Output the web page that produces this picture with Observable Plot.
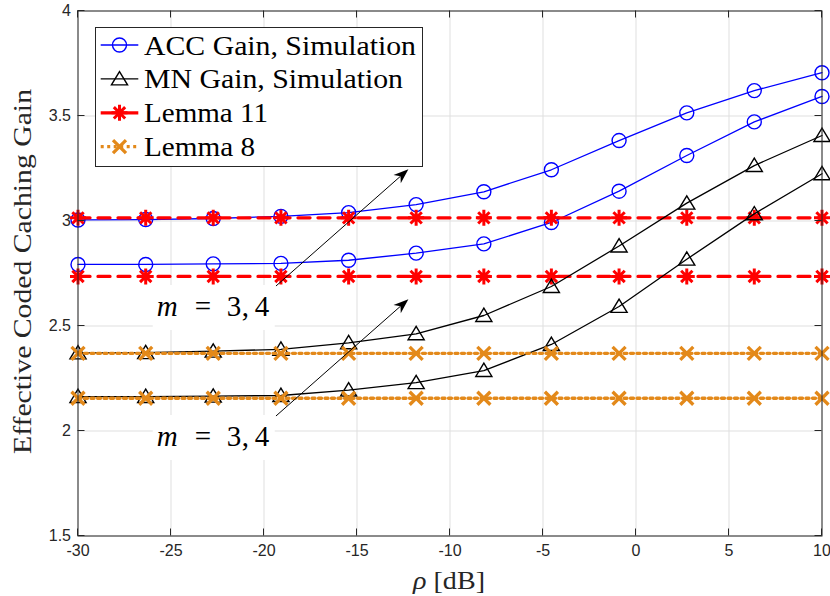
<!DOCTYPE html>
<html><head><meta charset="utf-8">
<script src="https://cdn.jsdelivr.net/npm/d3@7"></script>
<script src="https://cdn.jsdelivr.net/npm/@observablehq/plot@0.6"></script>
<style>
body{margin:0;background:#fff;}
#chart{width:830px;height:596px;}
</style></head><body><div id="chart"></div>
<script>
// ---- data ----
const rho = [-30, -26.36, -22.73, -19.09, -15.45, -11.82, -8.18, -4.55, -0.91, 2.73, 6.36, 10];
const accM4 = [3.005, 3.007, 3.012, 3.022, 3.04, 3.078, 3.139, 3.244, 3.383, 3.515, 3.621, 3.706];
const accM3 = [2.793, 2.793, 2.796, 2.798, 2.813, 2.847, 2.891, 2.993, 3.142, 3.312, 3.472, 3.593];
const mnM4 = [2.372, 2.373, 2.38, 2.389, 2.42, 2.463, 2.55, 2.688, 2.881, 3.085, 3.264, 3.407];
const mnM3 = [2.164, 2.164, 2.166, 2.169, 2.195, 2.23, 2.288, 2.412, 2.593, 2.818, 3.034, 3.225];
const lemma11 = [3.015, 2.736];
const lemma8 = [2.370, 2.156];
const xTicks = [-30, -25, -20, -15, -10, -5, 0, 5, 10];
const yTicks = [1.5, 2, 2.5, 3, 3.5, 4];
const legendLabels = ["ACC Gain, Simulation", "MN Gain, Simulation", "Lemma 11", "Lemma 8"];
const xTitle = ["ρ", " [dB]"];
const yTitle = "Effective Coded Caching Gain";
const annText = ["m", "=", "3", ",", "4"];
const arrowFrom = [[-19.33, 2.688], [-19.33, 2.069]];
const arrowTo = [[-12.21, 3.244], [-12.21, 2.625]];
const annAt = [[-25.74, 2.545], [-25.74, 1.926]];

// ---- symbols ----
const symCircle = {draw(c, s){const r=Math.sqrt(s/Math.PI); c.moveTo(r,0); c.arc(0,0,r,0,2*Math.PI);}};
const symTri = {draw(c, s){const r=Math.sqrt(s/Math.PI); c.moveTo(0,-r*1.05); c.lineTo(r*1.15,r*0.85); c.lineTo(-r*1.15,r*0.85); c.closePath();}};
const symStar = {draw(c, s){const r=Math.sqrt(s/Math.PI), d=r*Math.SQRT1_2;
  c.moveTo(0,-r); c.lineTo(0,r); c.moveTo(-r,0); c.lineTo(r,0);
  c.moveTo(-d,-d); c.lineTo(d,d); c.moveTo(-d,d); c.lineTo(d,-d);}};
const symX = {draw(c, s){const r=Math.sqrt(s/Math.PI); c.moveTo(-r,-r); c.lineTo(r,r); c.moveTo(-r,r); c.lineTo(r,-r);}};

const rows = vals => rho.map((r,i)=>({rho:r, v:vals[i]}));
const flat = v => rho.map(r=>({rho:r, v}));

const BLUE="#0000ff", BLACK="#000000", RED="#ff0000", ORANGE="#e3891a";
const styles = [
  {stroke:BLUE, sym:symCircle, r:7, sw:1.4, lw:1.3, dash:null},
  {stroke:BLACK, sym:symTri, r:7, sw:1.4, lw:1.3, dash:null},
  {stroke:RED, sym:symStar, r:8, sw:3, lw:3.3, dash:"12,8"},
  {stroke:ORANGE, sym:symX, r:6.5, sw:3.3, lw:3.3, dash:"3,3.5"}
];

function seriesMarks(data, st){
  return [
    Plot.line(data, {x:"rho", y:"v", stroke:st.stroke, strokeWidth:st.lw, strokeDasharray:st.dash}),
    Plot.dot(data, {x:"rho", y:"v", symbol:st.sym, r:st.r, stroke:st.stroke, fill:"none", strokeWidth:st.sw})
  ];
}

const plot = Plot.plot({
  width: 830, height: 596,
  marginLeft: 77.5, marginRight: 8.5, marginTop: 10.5, marginBottom: 60.5,
  style: {fontFamily: "'Liberation Sans', Arial, Helvetica, sans-serif", background: "#fff", overflow: "visible"},
  x: {domain: [-30, 10]},
  y: {domain: [1.5, 4]},
  marks: [
    Plot.gridX({ticks: xTicks, stroke: "#dfdfdf", strokeOpacity: 1, strokeWidth: 1}),
    Plot.gridY({ticks: yTicks, stroke: "#dfdfdf", strokeOpacity: 1, strokeWidth: 1}),
    Plot.axisX({ticks: xTicks, anchor: "bottom", tickSize: 0, tickPadding: 9, tickFormat: d => String(d), fontSize: 16, color: "#262626", label: null}),
    Plot.axisY({ticks: yTicks, anchor: "left", tickSize: 0, tickPadding: 7, tickFormat: d => String(d), fontSize: 16, color: "#262626", label: null}),
    ...seriesMarks(rows(accM4), styles[0]),
    ...seriesMarks(rows(accM3), styles[0]),
    ...seriesMarks(flat(lemma11[0]), styles[2]),
    ...seriesMarks(flat(lemma11[1]), styles[2]),
    ...seriesMarks(rows(mnM4), styles[1]),
    ...seriesMarks(rows(mnM3), styles[1]),
    ...seriesMarks(flat(lemma8[0]), styles[3]),
    ...seriesMarks(flat(lemma8[1]), styles[3]),
    Plot.frame({stroke: "#262626", strokeWidth: 1})
  ]
});
document.getElementById("chart").appendChild(plot);

const sx = plot.scale("x"), sy = plot.scale("y");
const X = v => sx.apply(v), Y = v => sy.apply(v);
const svg = d3.select(plot);
const SERIF = "'Liberation Serif', 'Times New Roman', serif";

// inward ticks on all four sides
const tg = svg.append("g").attr("stroke", "#262626").attr("stroke-width", 1);
const x0 = X(-30), x1 = X(10), y0 = Y(1.5), y1 = Y(4);
xTicks.forEach(t => {
  tg.append("line").attr("x1", X(t)).attr("x2", X(t)).attr("y1", y0).attr("y2", y0 - 7);
  tg.append("line").attr("x1", X(t)).attr("x2", X(t)).attr("y1", y1).attr("y2", y1 + 7);
});
yTicks.forEach(t => {
  tg.append("line").attr("y1", Y(t)).attr("y2", Y(t)).attr("x1", x0).attr("x2", x0 + 7);
  tg.append("line").attr("y1", Y(t)).attr("y2", Y(t)).attr("x1", x1).attr("x2", x1 - 7);
});

// annotations: white text boxes, text, arrows
annAt.forEach(([ax, ay]) => {
  const px = X(ax), py = Y(ay);
  svg.append("rect").attr("x", px - 4).attr("y", py - 31).attr("width", 122).attr("height", 45).attr("fill", "#fff");
  const t = svg.append("text").attr("y", py).attr("text-anchor", "start").attr("font-family", SERIF)
    .attr("font-size", 29).attr("fill", "#000");
  const offs = [0, 38, 70, 85, 98];
  annText.forEach((s, i) => {
    const ts = t.append("tspan").attr("x", px + offs[i]).text(s);
    if (i === 0) ts.attr("font-style", "italic");
  });
});
arrowFrom.forEach((f, i) => {
  const sxp = X(f[0]), syp = Y(f[1]), ex = X(arrowTo[i][0]), ey = Y(arrowTo[i][1]);
  const dx = ex - sxp, dy = ey - syp, len = Math.hypot(dx, dy), ux = dx/len, uy = dy/len, nx = -uy, ny = ux;
  const L = 15, w = 5.5;
  svg.append("line").attr("x1", sxp).attr("y1", syp).attr("x2", ex - ux*L*0.7).attr("y2", ey - uy*L*0.7)
    .attr("stroke", "#000").attr("stroke-width", 1);
  svg.append("path").attr("fill", "#000").attr("d",
    `M${ex},${ey}L${ex - ux*L + nx*w},${ey - uy*L + ny*w}L${ex - ux*L*0.7},${ey - uy*L*0.7}L${ex - ux*L - nx*w},${ey - uy*L - ny*w}Z`);
});

// legend
const lg = svg.append("g");
lg.append("rect").attr("x", 95.5).attr("y", 27.5).attr("width", 327).attr("height", 139)
  .attr("fill", "#fff").attr("stroke", "#262626").attr("stroke-width", 1);
const legLens = [272, 259, 124, 111];
legendLabels.forEach((lab, i) => {
  const st = styles[i], cy = 45 + i*33.9;
  lg.append("line").attr("x1", 100.7).attr("x2", 138.3).attr("y1", cy).attr("y2", cy)
    .attr("stroke", st.stroke).attr("stroke-width", st.lw).attr("stroke-dasharray", i === 3 ? "3,3.5" : null);
  lg.append("path").attr("d", d3.symbol(st.sym, Math.PI*st.r*st.r)()).attr("transform", `translate(119.5,${cy})`)
    .attr("fill", "none").attr("stroke", st.stroke).attr("stroke-width", st.sw);
  lg.append("text").attr("x", 144).attr("y", cy + 9.5).attr("text-anchor", "start").attr("font-family", SERIF).attr("font-size", 27)
    .attr("fill", "#000").attr("textLength", legLens[i]).attr("lengthAdjust", "spacingAndGlyphs").text(lab);
});

// axis titles
const xt = svg.append("text").attr("x", 449).attr("y", 589).attr("text-anchor", "middle")
  .attr("font-family", SERIF).attr("font-size", 26).attr("fill", "#262626")
  .attr("textLength", 72).attr("lengthAdjust", "spacingAndGlyphs");
xt.append("tspan").attr("font-style", "italic").text(xTitle[0]);
xt.append("tspan").text(xTitle[1]);
svg.append("text").attr("transform", "translate(31,271.5) rotate(-90)").attr("text-anchor", "middle")
  .attr("font-family", SERIF).attr("font-size", 26).attr("fill", "#262626")
  .attr("textLength", 365).attr("lengthAdjust", "spacingAndGlyphs").text(yTitle);
</script>
</body></html>
